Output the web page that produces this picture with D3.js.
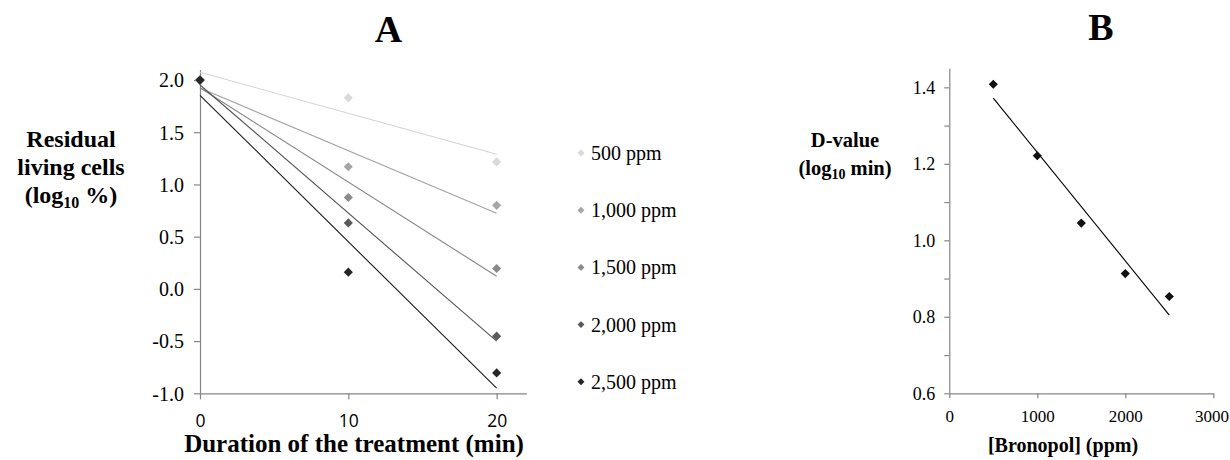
<!DOCTYPE html>
<html>
<head>
<meta charset="utf-8">
<script src="https://cdn.jsdelivr.net/npm/d3@7/dist/d3.min.js"></script>
<style>
  html, body { margin: 0; padding: 0; background: #fff; }
  svg { display: block; }
</style>
</head>
<body>
<svg id="chart" width="1230" height="460"></svg>
<script>
// ---------- Data ----------
const durations = [0, 10, 20];
const concentrations = ["500 ppm", "1,000 ppm", "1,500 ppm", "2,000 ppm", "2,500 ppm"];
const residual500 = [2.0, 1.83, 1.216];
const residual1000 = [2.0, 1.17, 0.80];
const residual1500 = [2.0, 0.875, 0.195];
const residual2000 = [2.0, 0.632, -0.453];
const residual2500 = [2.0, 0.16, -0.805];
const markerColors = ["#d9d9d9", "#a6a6a6", "#8a8a8a", "#595959", "#262626"];
const lineColors = ["#d4d4d4", "#a3a3a3", "#858585", "#555555", "#1a1a1a"];
const ticksAX = [0, 10, 20];
const ticksAY = [-1.0, -0.5, 0.0, 0.5, 1.0, 1.5, 2.0];

const bronopol = [500, 1000, 1500, 2000, 2500];
const dValue = [1.408, 1.221, 1.045, 0.913, 0.853];
const ticksBX = [0, 1000, 2000, 3000];
const ticksBY = [0.6, 0.7, 0.8, 0.9, 1.0, 1.1, 1.2, 1.3, 1.4];
const labeledBY = [0.6, 0.8, 1.0, 1.2, 1.4];

const seriesA = [residual500, residual1000, residual1500, residual2000, residual2500];

// ---------- Helpers ----------
const svg = d3.select("#chart");
const serif = "Liberation Serif, Times New Roman, serif";
const sans = "Open Sans, Liberation Sans, sans-serif";
const axisGray = "#868686";
const fmt = v => d3.format(".1f")(v).replace("\u2212", "-");

function linFit(xs, ys) {
  const n = xs.length, mx = d3.mean(xs), my = d3.mean(ys);
  let sxy = 0, sxx = 0;
  for (let i = 0; i < n; i++) { sxy += (xs[i] - mx) * (ys[i] - my); sxx += (xs[i] - mx) ** 2; }
  const b = sxy / sxx;
  return x => my + b * (x - mx);
}
const diamond = size => d3.symbol(d3.symbolSquare, size);

function styleAxis(g) {
  g.select(".domain").attr("stroke", axisGray).attr("stroke-width", 1.2);
  g.selectAll(".tick line").attr("stroke", axisGray).attr("stroke-width", 1.2);
  g.selectAll(".tick text").attr("fill", "#000");
}

// ---------- Panel A ----------
const xA = d3.scaleLinear().domain([0, 22]).range([200, 526.3]);
const yA = d3.scaleLinear().domain([-1, 2.1]).range([393.3, 69.6]);

const gAy = svg.append("g").attr("transform", `translate(${xA(0)},0)`)
  .call(d3.axisLeft(yA).tickValues(ticksAY).tickFormat(fmt).tickSize(6).tickPadding(10).tickSizeOuter(0));
styleAxis(gAy);
gAy.selectAll(".tick text").attr("font-family", serif).attr("font-size", 20).attr("dy", "0.34em");

const gAx = svg.append("g").attr("transform", `translate(0,${yA(-1)})`)
  .call(d3.axisBottom(xA).tickValues(ticksAX).tickFormat(d3.format("d")).tickSize(6).tickPadding(15).tickSizeOuter(0));
styleAxis(gAx);
gAx.selectAll(".tick text").attr("font-family", sans).attr("font-size", 17.5);

// trendlines
seriesA.forEach((ys, i) => {
  const f = linFit(durations, ys);
  svg.append("line")
    .attr("x1", xA(0)).attr("y1", yA(f(0)))
    .attr("x2", xA(20)).attr("y2", yA(f(20)))
    .attr("stroke", lineColors[i]).attr("stroke-width", 1.1);
});
// markers
seriesA.forEach((ys, i) => {
  svg.append("g").selectAll("path").data(ys).join("path")
    .attr("d", diamond(42))
    .attr("transform", (d, j) => `translate(${xA(durations[j])},${yA(d)}) rotate(45)`)
    .attr("fill", markerColors[i]);
});

// legend
const legend = svg.append("g");
concentrations.forEach((c, i) => {
  const y = 153 + i * 57.2;
  legend.append("path").attr("d", diamond(24))
    .attr("transform", `translate(581,${y}) rotate(45)`)
    .attr("fill", markerColors[i]);
  legend.append("text").attr("x", 591).attr("y", y).attr("dy", "0.35em")
    .attr("font-family", serif).attr("font-size", 20).text(c);
});

// title A
svg.append("text").attr("x", 388.5).attr("y", 42).attr("text-anchor", "middle")
  .attr("font-family", serif).attr("font-weight", "bold").attr("font-size", 38).text("A");

// y label A
const ylA = svg.append("text").attr("text-anchor", "middle")
  .attr("font-family", serif).attr("font-weight", "bold").attr("font-size", 24);
ylA.append("tspan").attr("x", 71).attr("y", 147).text("Residual");
ylA.append("tspan").attr("x", 71).attr("y", 175).text("living cells");
ylA.append("tspan").attr("x", 71).attr("y", 203).text("(log");
ylA.append("tspan").attr("font-size", 16).attr("dy", 5).text("10");
ylA.append("tspan").attr("dy", -5).text(" %)");

// x label A
svg.append("text").attr("x", 354).attr("y", 452).attr("text-anchor", "middle")
  .attr("font-family", serif).attr("font-weight", "bold").attr("font-size", 25)
  .text("Duration of the treatment (min)");

// ---------- Panel B ----------
const xB = d3.scaleLinear().domain([0, 3000]).range([949.3, 1213.3]);
const yB = d3.scaleLinear().domain([0.6, 1.45]).range([393.3, 68.2]);

const gBy = svg.append("g").attr("transform", `translate(${xB(0)},0)`)
  .call(d3.axisLeft(yB).tickValues(ticksBY)
    .tickFormat(v => labeledBY.some(l => Math.abs(l - v) < 1e-9) ? fmt(v) : "")
    .tickSize(5).tickPadding(9).tickSizeOuter(0));
styleAxis(gBy);
gBy.selectAll(".tick text").attr("font-family", serif).attr("font-size", 18);

const gBx = svg.append("g").attr("transform", `translate(0,${yB(0.6)})`)
  .call(d3.axisBottom(xB).tickValues(ticksBX).tickFormat(d3.format("d")).tickSize(5).tickPadding(12).tickSizeOuter(0));
styleAxis(gBx);
gBx.selectAll(".tick text").attr("font-family", serif).attr("font-size", 17);
gBx.selectAll(".tick text").filter(d => d === 3000).attr("text-anchor", "end").attr("dx", "0.9em");

const fB = linFit(bronopol, dValue);
svg.append("line")
  .attr("x1", xB(500)).attr("y1", yB(fB(500)))
  .attr("x2", xB(2500)).attr("y2", yB(fB(2500)))
  .attr("stroke", "#000").attr("stroke-width", 1.1);

svg.append("g").selectAll("path").data(dValue).join("path")
  .attr("d", diamond(42))
  .attr("transform", (d, j) => `translate(${xB(bronopol[j])},${yB(d)}) rotate(45)`)
  .attr("fill", "#111");

svg.append("text").attr("x", 1101).attr("y", 40).attr("text-anchor", "middle")
  .attr("font-family", serif).attr("font-weight", "bold").attr("font-size", 38).text("B");

const ylB = svg.append("text").attr("text-anchor", "middle")
  .attr("font-family", serif).attr("font-weight", "bold").attr("font-size", 20.5);
ylB.append("tspan").attr("x", 845).attr("y", 147).text("D-value");
ylB.append("tspan").attr("x", 845).attr("y", 175).text("(log");
ylB.append("tspan").attr("font-size", 14).attr("dy", 4).text("10");
ylB.append("tspan").attr("dy", -4).text(" min)");

svg.append("text").attr("x", 1063).attr("y", 452).attr("text-anchor", "middle")
  .attr("font-family", serif).attr("font-weight", "bold").attr("font-size", 20)
  .text("[Bronopol] (ppm)");
</script>
</body>
</html>
